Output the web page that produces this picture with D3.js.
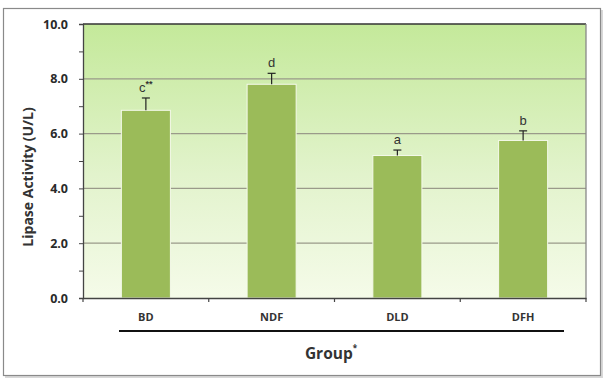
<!DOCTYPE html>
<html><head><meta charset="utf-8">
<script src="https://cdn.jsdelivr.net/npm/d3@7"></script>
<style>body{margin:0;background:#fff;}svg{display:block;}</style>
</head><body>
<svg id="chart" width="608" height="382"></svg>
<script>
const categories = ["BD", "NDF", "DLD", "DFH"];
const values = [6.85, 7.8, 5.2, 5.75];
const errors = [0.45, 0.4, 0.2, 0.35];
const letters = ["c", "d", "a", "b"];
const letterSup = ["**", "", "", ""];
const majorTicks = [0, 2, 4, 6, 8, 10];
const minorTicks = [1, 3, 5, 7, 9];

const svg = d3.select("#chart");
const m = {left: 83, right: 586, top: 24, bottom: 298};

// outer frame with shadow
svg.append("rect").attr("x", 5).attr("y", 10).attr("width", 598).attr("height", 368).attr("fill", "#d8d8d8");
svg.append("rect").attr("x", 3.5).attr("y", 8.5).attr("width", 597).attr("height", 367)
  .attr("fill", "#fff").attr("stroke", "#8a8a8a").attr("stroke-width", 1.2);

const defs = svg.append("defs");
const grad = defs.append("linearGradient").attr("id", "bg").attr("x1", 0).attr("y1", 0).attr("x2", 0).attr("y2", 1);
grad.append("stop").attr("offset", "0%").attr("stop-color", "#c4e99a");
grad.append("stop").attr("offset", "55%").attr("stop-color", "#e2f3cc");
grad.append("stop").attr("offset", "100%").attr("stop-color", "#f5fbe9");

const x = d3.scaleBand().domain(categories).range([m.left, m.right]).paddingInner(0.61).paddingOuter(0.305);
const xb = d3.scaleBand().domain(categories).range([m.left, m.right]);
const y = d3.scaleLinear().domain([0, 10]).range([m.bottom, m.top]);

svg.append("rect").attr("x", m.left).attr("y", m.top).attr("width", m.right - m.left).attr("height", m.bottom - m.top)
  .attr("fill", "url(#bg)");

// gridlines
svg.append("g").selectAll("line").data(majorTicks.filter(d => d > 0 && d < 10)).join("line")
  .attr("x1", m.left).attr("x2", m.right).attr("y1", d => y(d)).attr("y2", d => y(d))
  .attr("stroke", "#9a9a8a").attr("stroke-width", 1.2);

// plot border top and right
svg.append("line").attr("x1", m.left).attr("x2", m.right).attr("y1", m.top).attr("y2", m.top).attr("stroke", "#333").attr("stroke-width", 1.3);
svg.append("line").attr("x1", m.right).attr("x2", m.right).attr("y1", m.top).attr("y2", m.bottom).attr("stroke", "#888").attr("stroke-width", 1.3);

// bars
svg.append("g").selectAll("rect").data(values).join("rect")
  .attr("x", (d, i) => x(categories[i])).attr("width", x.bandwidth())
  .attr("y", d => y(d)).attr("height", d => y(0) - y(d))
  .attr("fill", "#9bbb59").attr("stroke", "#f4f9ea").attr("stroke-width", 1);

// error bars
const eg = svg.append("g").attr("stroke", "#222").attr("stroke-width", 1.2);
values.forEach((v, i) => {
  const cx = x(categories[i]) + x.bandwidth() / 2;
  eg.append("line").attr("x1", cx).attr("x2", cx).attr("y1", y(v)).attr("y2", y(v + errors[i]));
  eg.append("line").attr("x1", cx - 4).attr("x2", cx + 4).attr("y1", y(v + errors[i])).attr("y2", y(v + errors[i]));
});

// letters
const lt = svg.append("g").attr("font-family", "'Liberation Sans', Arial, sans-serif").attr("font-size", 13).attr("fill", "#333");
values.forEach((v, i) => {
  const cx = x(categories[i]) + x.bandwidth() / 2;
  const t = lt.append("text").attr("x", cx).attr("y", y(v + errors[i]) - 6).attr("text-anchor", "middle");
  t.append("tspan").text(letters[i]);
  if (letterSup[i]) t.append("tspan").attr("font-size", 9).attr("font-weight", "bold").attr("dy", -5).text(letterSup[i]);
});

// y axis
const yAxis = svg.append("g").attr("transform", `translate(${m.left},0)`)
  .call(d3.axisLeft(y).tickValues(majorTicks).tickFormat(d3.format(".1f")).tickSize(4).tickPadding(11));
yAxis.select(".domain").attr("stroke", "#444").attr("stroke-width", 1.3);
yAxis.selectAll(".tick line").attr("stroke", "#444");
yAxis.selectAll("text").attr("font-family", "'Open Sans', sans-serif").attr("font-weight", "bold").attr("font-size", 12.5).attr("fill", "#2a2a2a");
svg.append("g").attr("transform", `translate(${m.left},0)`)
  .call(d3.axisLeft(y).tickValues(minorTicks).tickFormat("").tickSize(4))
  .call(g => g.select(".domain").remove())
  .selectAll("line").attr("stroke", "#444");

// x axis
const xAxis = svg.append("g").attr("transform", `translate(0,${m.bottom})`)
  .call(d3.axisBottom(xb).tickSize(0).tickPadding(15));
xAxis.select(".domain").attr("stroke", "#444").attr("stroke-width", 1.3);
xAxis.selectAll("text").attr("font-family", "'Open Sans', sans-serif").attr("font-weight", "bold").attr("font-size", 11).attr("fill", "#333");
// boundary ticks
const bounds = categories.map(c => xb(c)).concat([m.right]);
svg.append("g").selectAll("line").data(bounds).join("line")
  .attr("x1", d => d).attr("x2", d => d).attr("y1", m.bottom).attr("y2", m.bottom + 4)
  .attr("stroke", "#444").attr("stroke-width", 1.2);

// underline
svg.append("line").attr("x1", 119).attr("x2", 564).attr("y1", 331).attr("y2", 331).attr("stroke", "#111").attr("stroke-width", 2.2);

// x title
const xt = svg.append("text").attr("x", 331).attr("y", 359).attr("text-anchor", "middle")
  .attr("font-family", "'Open Sans', sans-serif").attr("font-weight", "bold").attr("font-size", 15.5).attr("fill", "#333");
xt.append("tspan").text("Group");
xt.append("tspan").attr("font-size", 8).attr("dy", -8).text("*");

// y title
svg.append("text").attr("transform", "translate(33,177) rotate(-90)").attr("text-anchor", "middle")
  .attr("font-family", "'Open Sans', sans-serif").attr("font-weight", "bold").attr("font-size", 14).attr("fill", "#333")
  .text("Lipase Activity (U/L)");
</script>
</body></html>
